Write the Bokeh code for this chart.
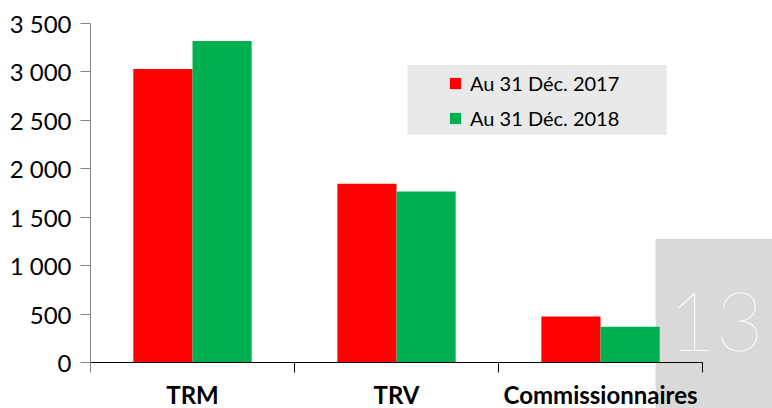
from bokeh.plotting import figure
from bokeh.models import (Range1d, LinearAxis, FixedTicker, CustomJSTickFormatter,
                          BoxAnnotation, Label, Legend, LegendItem, ColumnDataSource)
from bokeh.transform import dodge
from bokeh.embed import file_html
from bokeh.resources import INLINE

categories = ["TRM", "TRV", "Commissionnaires"]
series_names = ["Au 31 Déc. 2017", "Au 31 Déc. 2018"]
values_2017 = [3030, 1845, 475]
values_2018 = [3320, 1765, 370]
y_ticks = [0, 500, 1000, 1500, 2000, 2500, 3000, 3500]
page_number = "13"

FONT = "Lato"

centers = [i + 0.5 for i in range(len(categories))]
src = ColumnDataSource(dict(x=centers, cat=categories, v17=values_2017, v18=values_2018))

p = figure(x_range=Range1d(0, 3.343), y_range=Range1d(-475, 3500),
           width=772, height=408,
           min_border_left=90, min_border_right=0, min_border_top=23, min_border_bottom=0,
           output_backend="svg", toolbar_location=None,
           x_axis_location=None, y_axis_location=None)
p.grid.visible = False
p.outline_line_color = None

# background boxes
p.add_layout(BoxAnnotation(left=2.77, right=3.6, bottom=-700, top=1278,
                           fill_color="#d9d9d9", fill_alpha=1, line_color=None, level="underlay"))
p.add_layout(BoxAnnotation(left=1.554, right=2.824, bottom=2351, top=3072,
                           fill_color="#e9e9e9", fill_alpha=1, line_color=None, level="underlay"))

yaxis = LinearAxis(ticker=FixedTicker(ticks=y_ticks), bounds=(0, 3500),
                   formatter=CustomJSTickFormatter(code="return tick.toString().replace(/\\B(?=(\\d{3})+(?!\\d))/g, ' ');"))
yaxis.axis_line_color = "#868686"
yaxis.major_tick_line_color = "#868686"
yaxis.major_tick_out = 10
yaxis.major_tick_in = 0
yaxis.minor_tick_out = 0
yaxis.minor_tick_in = 0
yaxis.major_label_standoff = 9
yaxis.major_label_text_font = FONT
yaxis.major_label_text_font_size = "24px"
yaxis.major_label_text_color = "black"
p.add_layout(yaxis, "left")

bax = LinearAxis(ticker=FixedTicker(ticks=list(range(len(categories) + 1))),
                 bounds=(0, len(categories)), fixed_location=0,
                 formatter=CustomJSTickFormatter(code="return '';"))
bax.axis_line_color = "black"
bax.major_tick_line_color = "black"
bax.major_tick_out = 10
bax.major_tick_in = 0
bax.minor_tick_out = 0
bax.minor_tick_in = 0
bax.major_label_text_font_size = "0px"
bax.major_label_standoff = 0
p.add_layout(bax, "below")

cax = LinearAxis(ticker=FixedTicker(ticks=centers), fixed_location=0,
                 formatter=CustomJSTickFormatter(args=dict(cats=categories),
                                                 code="return cats[Math.floor(tick)];"))
cax.axis_line_color = None
cax.major_tick_line_color = None
cax.minor_tick_line_color = None
cax.major_tick_out = 0
cax.major_tick_in = 0
cax.minor_tick_out = 0
cax.minor_tick_in = 0
cax.major_label_standoff = 18
cax.major_label_text_font = FONT
cax.major_label_text_font_style = "bold"
cax.major_label_text_font_size = "24px"
cax.major_label_text_color = "black"
p.add_layout(cax, "below")

r1 = p.vbar(x=dodge("x", -0.145), top="v17", width=0.29, source=src,
            fill_color="#ff0000", line_color=None)
r2 = p.vbar(x=dodge("x", 0.145), top="v18", width=0.29, source=src,
            fill_color="#00b050", line_color=None)

legend = Legend(items=[LegendItem(label=series_names[0], renderers=[r1]),
                       LegendItem(label=series_names[1], renderers=[r2])],
                location=(358, 278), background_fill_alpha=0, border_line_color=None,
                padding=0, margin=0, spacing=11, glyph_width=14, glyph_height=14,
                label_standoff=8, label_text_font=FONT, label_text_font_size="20px",
                label_height=21, label_text_color="black")
p.add_layout(legend)

p.add_layout(Label(x=2.833, y=413, text=page_number, text_color="white",
                   text_font="'Lato Hairline', 'Lato Light', Lato", text_font_size="82px",
                   text_baseline="alphabetic"))

open("out.html", "w").write(file_html(p, INLINE))
